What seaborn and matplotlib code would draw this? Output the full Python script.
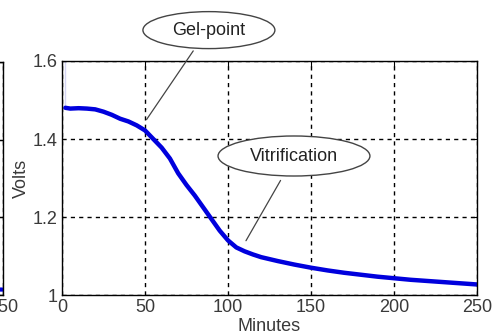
import matplotlib
matplotlib.use('Agg')
import matplotlib.pyplot as plt
from matplotlib.patches import Ellipse
import pandas as pd
import seaborn as sns

# Cure monitoring signal
minutes = [2, 5, 10, 15, 20, 25, 30, 35, 40, 45, 50, 55, 60, 65, 70, 75, 80, 85,
           90, 95, 100, 105, 110, 115, 120, 130, 140, 150, 160, 170, 180, 190,
           200, 210, 220, 230, 240, 250]
volts = [1.480, 1.478, 1.479, 1.478, 1.476, 1.470, 1.462, 1.452, 1.445, 1.435,
         1.422, 1.400, 1.378, 1.350, 1.312, 1.282, 1.255, 1.225, 1.195, 1.165,
         1.140, 1.122, 1.112, 1.104, 1.097, 1.087, 1.078, 1.070, 1.063, 1.057,
         1.052, 1.047, 1.043, 1.039, 1.036, 1.033, 1.030, 1.027]

# start-up spike
spike_minutes = [2, 2]
spike_volts = [1.48, 1.60]

# tail of the neighbouring panel (cut off at the left edge)
left_minutes = [200, 250]
left_volts = [1.016, 1.014]

xticks = [0, 50, 100, 150, 200, 250]
yticks = [1, 1.2, 1.4, 1.6]

df = pd.DataFrame({'Minutes': minutes, 'Volts': volts})

sns.set_style('white')
plt.rcParams['font.family'] = ['Liberation Sans', 'DejaVu Sans']

W, H = 492, 332
fig = plt.figure(figsize=(W / 100, H / 100), dpi=100)


def px_axes(x0, y0, x1, y1):
    return fig.add_axes([x0 / W, 1 - y1 / H, (x1 - x0) / W, (y1 - y0) / H])


def style(ax):
    ax.set_xlim(0, 250)
    ax.set_ylim(1, 1.6)
    ax.set_xticks(xticks)
    ax.set_yticks(yticks)
    ax.set_xticklabels([str(t) for t in xticks])
    ax.set_yticklabels(['1', '1.2', '1.4', '1.6'])
    ax.tick_params(direction='in', length=4, width=0.8, top=True, right=True,
                   labelsize=13, labelcolor='#3a3a3a', colors='black', pad=3)
    ax.grid(True, color='black', linestyle=(0, (3, 3)), linewidth=1.0)
    for s in ax.spines.values():
        s.set_color('black')
        s.set_linewidth(1.0)


# partial panel on the left
axl = px_axes(-412, 62, 3, 295)
sns.lineplot(x=left_minutes, y=left_volts, ax=axl, color='#0000dd', linewidth=3)
style(axl)
axl.set_yticklabels([])
axl.set_xlabel('')
axl.set_ylabel('')

# main panel
ax = px_axes(62, 61, 477, 295)
sns.lineplot(data=df, x='Minutes', y='Volts', ax=ax, color='#0000dd', linewidth=3.2)
sns.lineplot(x=spike_minutes, y=spike_volts, ax=ax, color='#3333cc', linewidth=1.0)
style(ax)
ax.set_xlabel('Minutes', fontsize=13, color='#3a3a3a', labelpad=1)
ax.set_ylabel('Volts', fontsize=13, color='#3a3a3a', labelpad=2)

# callouts
line_kw = dict(arrowstyle='-', color='#444444', lw=0.9)
ax.annotate('', xy=(50, 1.444), xytext=(0.320, 1.053), textcoords='axes fraction',
            arrowprops=line_kw, annotation_clip=False)
ax.annotate('', xy=(110, 1.133), xytext=(0.530, 0.50), textcoords='axes fraction',
            arrowprops=line_kw, annotation_clip=False)

for cx, cy, w, h, label in [(0.354, 1.132, 0.318, 0.158, 'Gel-point'),
                            (0.559, 0.594, 0.366, 0.171, 'Vitrification')]:
    e = Ellipse((cx, cy), w, h, transform=ax.transAxes, facecolor='white',
                edgecolor='#444444', linewidth=1.0, clip_on=False, zorder=5)
    ax.add_patch(e)
    ax.text(cx, cy, label, transform=ax.transAxes, ha='center', va='center',
            fontsize=13, color='#222222', zorder=6)

fig.savefig('out.png', dpi=100)
